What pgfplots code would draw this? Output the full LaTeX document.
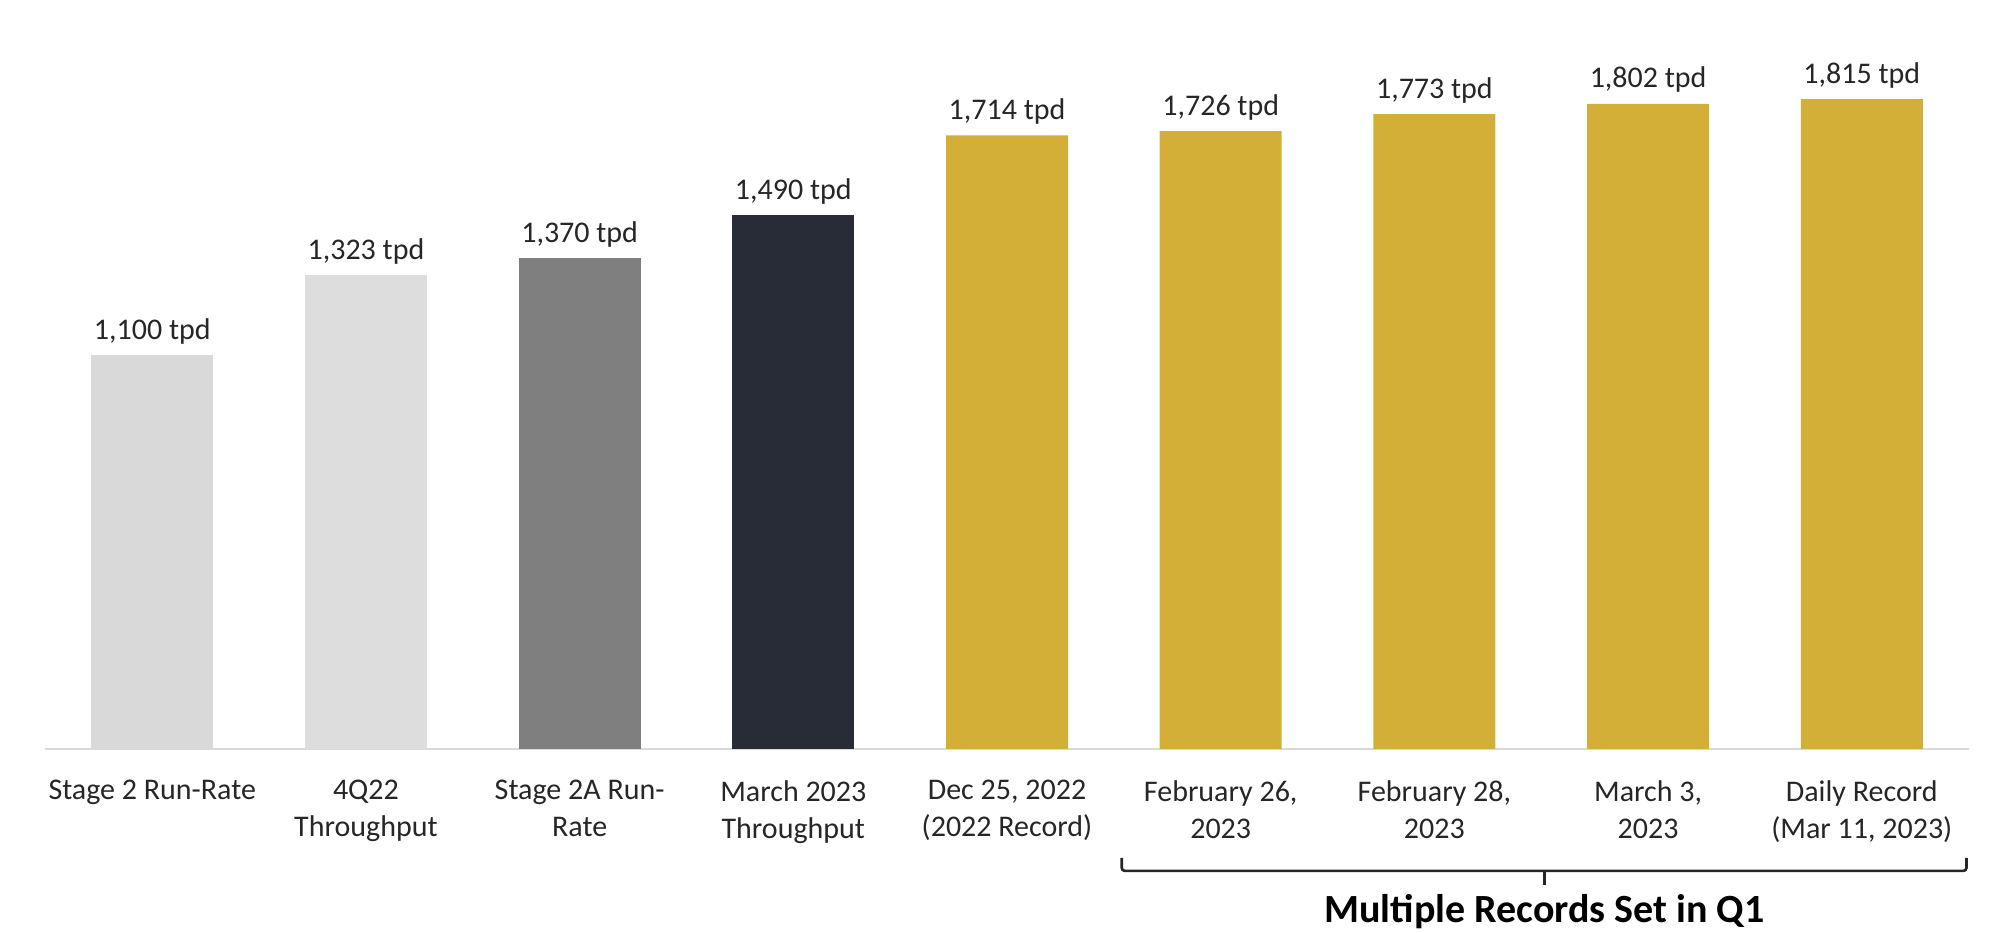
\documentclass[border=0pt]{standalone}
\usepackage{fontspec}
\setmainfont{Carlito}
\usepackage{pgfplots}
\pgfplotsset{compat=1.18}
\definecolor{lgA}{HTML}{D9D9D9}
\definecolor{lgB}{HTML}{DDDDDD}
\definecolor{mg}{HTML}{7F7F7F}
\definecolor{navy}{HTML}{282C37}
\definecolor{gold}{HTML}{D4AF37}
\definecolor{axgrey}{HTML}{D9D9D9}
\definecolor{txt}{HTML}{262626}
\begin{document}
\begin{tikzpicture}
\begin{axis}[
  scale only axis, width=961.6pt, height=374.4pt,
  xmin=-0.5, xmax=8.5, ymin=0, ymax=2092,
  hide y axis, axis x line*=bottom,
  x axis line style={draw=axgrey, line width=1pt, -},
  xtick={0,1,2,3,4,5,6,7,8},
  xtick style={draw=none},
  xticklabels={{Stage 2 Run-Rate},{4Q22\\Throughput},{Stage 2A Run-\\Rate},{March 2023\\Throughput},{Dec 25, 2022\\(2022 Record)},{February 26,\\2023},{February 28,\\2023},{March 3,\\2023},{Daily Record\\(Mar 11, 2023)}},
  xticklabel style={font=\fontsize{15}{18.4}\selectfont, align=center, text=txt, anchor=north, yshift=-8pt},
  clip=false,
  ybar, bar width=61pt, bar shift=0pt,
  nodes near coords={\pgfmathprintnumber[fixed,precision=0,1000 sep={,},assume math mode=true]{\pgfplotspointmeta}~tpd},
  every node near coord/.append style={font=\fontsize{15}{18}\selectfont, text=txt, yshift=2pt},
]
\addplot[fill=lgA, draw=none] coordinates {(0,1100)};
\addplot[fill=lgB, draw=none] coordinates {(1,1323)};
\addplot[fill=mg, draw=none] coordinates {(2,1370)};
\addplot[fill=navy, draw=none] coordinates {(3,1490)};
\addplot[fill=gold, draw=none] coordinates {(4,1714) (5,1726) (6,1773) (7,1802) (8,1815)};
\coordinate (bl) at (rel axis cs:0,0);
\coordinate (tr) at (rel axis cs:1,1);
\draw[txt, line width=1.3pt, rounded corners=1.5pt] (axis cs:4.537,-305) -- (axis cs:4.537,-341) -- (axis cs:8.49,-341) -- (axis cs:8.49,-305);
\draw[txt, line width=1.3pt] (axis cs:6.515,-341) -- (axis cs:6.515,-380);
\node[font=\fontsize{20}{24}\selectfont\bfseries, text=black] at (axis cs:6.515,-454) {Multiple Records Set in Q1};
\end{axis}
\pgfresetboundingbox
\path[use as bounding box] ([xshift=-22.7pt,yshift=-92pt]bl) rectangle ([xshift=10.7pt]tr);
\end{tikzpicture}
\end{document}
